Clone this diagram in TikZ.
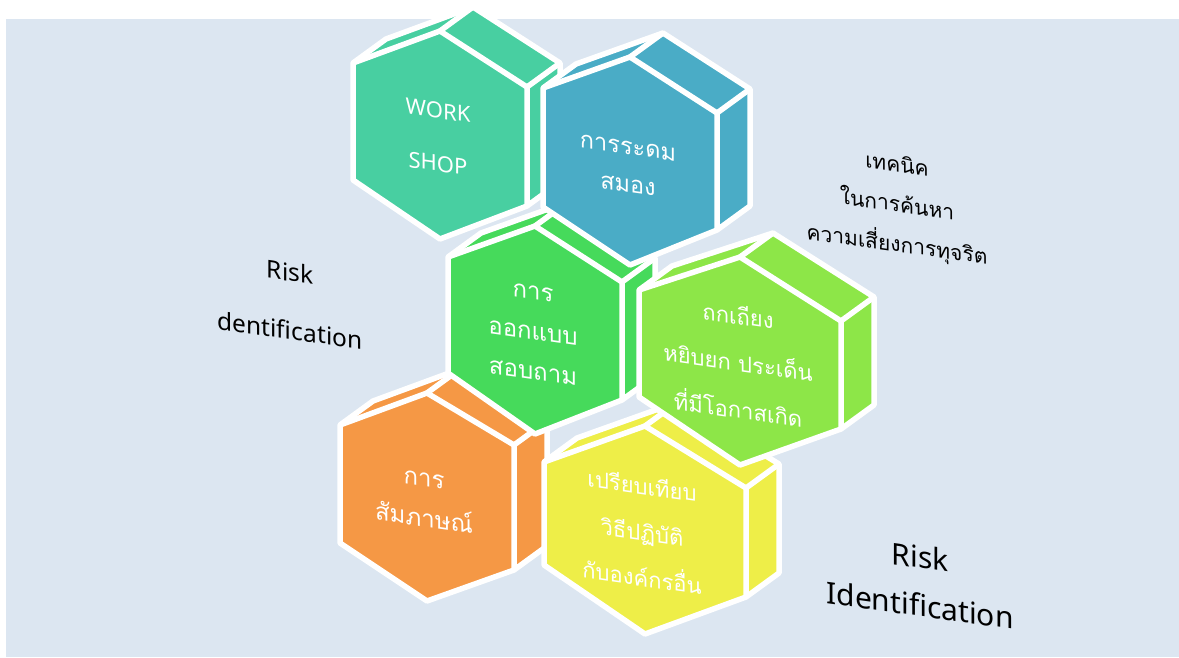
\documentclass[tikz,border=0pt]{standalone}
\usepackage{fontspec}
\setmainfont{Noto Sans}
\newfontfamily\thaifont[Script=Thai]{Loma}
\usetikzlibrary{positioning}

\definecolor{bgblue}{HTML}{DCE6F1}
\definecolor{hexteal}{HTML}{48CFA1}
\definecolor{hexblue}{HTML}{4AACC6}
\definecolor{hexgreen}{HTML}{46DA5B}
\definecolor{hexlime}{HTML}{8DE648}
\definecolor{hexorange}{HTML}{F59845}
\definecolor{hexyellow}{HTML}{EEEE48}

% #1,#2 centre, #3 half width, #4-#7 heights of the corners rt, rb, lb, lt, #8 colour
\newcommand{\hexbox}[8]{%
\begin{scope}[shift={(#1,#2)}]
\filldraw[fill=#8, hexline] (-#3,#7) -- ({33-#3},{#7-24}) -- (33,-128) -- ({#3+33},{#4-24})
  -- ({#3+33},{#5-24}) -- (#3,#5) -- (0,104) -- (-#3,#6) -- cycle;
\draw[hexline] (-#3,#7) -- (0,-104) -- (#3,#4) -- (#3,#5);
\draw[hexline] (0,-104) -- (33,-128);
\draw[hexline] (#3,#4) -- ({#3+33},{#4-24});
\end{scope}}

\begin{document}
\begin{tikzpicture}[x=1pt,y=-1pt,
  hexline/.style={draw=white, line width=5.5pt, line join=round},
  hextext/.style={text=white, align=center, yslant=-0.14, inner sep=0pt},
  sidetext/.style={text=black, align=center, yslant=-0.14, inner sep=0pt}]
\useasboundingbox (0,0) rectangle (1179,657);
\fill [bgblue] (6,19) rectangle (1179,657);

% the six boxes, back ones first
\hexbox{440}{135}{87}{-48}{71}{45}{-72}{hexteal}
\hexbox{427}{497}{87}{-52}{73}{46}{-72}{hexorange}
\hexbox{535}{330}{87}{-48}{70}{43}{-73}{hexgreen}
\hexbox{630}{161}{87}{-48}{69}{46}{-73}{hexblue}
\hexbox{645}{530}{101}{-42}{67}{35}{-68}{hexyellow}
\hexbox{740}{361}{101}{-40}{68}{36}{-71}{hexlime}

\node [hextext, font=\fontsize{22}{53}\selectfont] (workshop) at (438,137) {WORK\\SHOP};
\node [hextext, font=\thaifont\fontsize{23.5}{38}\selectfont] (brainstorm) at (628,167) {การระดม\\สมอง};
\node [hextext, font=\thaifont\fontsize{24}{40}\selectfont] (survey) at (533,333) {การ\\ออกแบบ\\สอบถาม};
\node [hextext, font=\thaifont\fontsize{22}{47}\selectfont] (debate) at (738,362) {ถกเถียง\\หยิบยก ประเด็น\\ที่มีโอกาสเกิด};
\node [hextext, font=\thaifont\fontsize{24}{40}\selectfont] (interview) at (424,500) {การ\\สัมภาษณ์};
\node [hextext, font=\thaifont\fontsize{22}{46}\selectfont] (compare) at (642,531) {เปรียบเทียบ\\วิธีปฏิบัติ\\กับองค์กรอื่น};

\node [sidetext, font=\thaifont\fontsize{21}{40}\selectfont] (technique) at (897,206) {เทคนิค\\ในการค้นหา\\ความเสี่ยงการทุจริต};
\node [sidetext, font=\fontsize{24.5}{58}\selectfont] (riskleft) at (290,301) {Risk\\dentification};
\node [sidetext, font=\fontsize{30}{48}\selectfont] (riskright) at (920,581) {Risk\\Identification};
\end{tikzpicture}
\end{document}
